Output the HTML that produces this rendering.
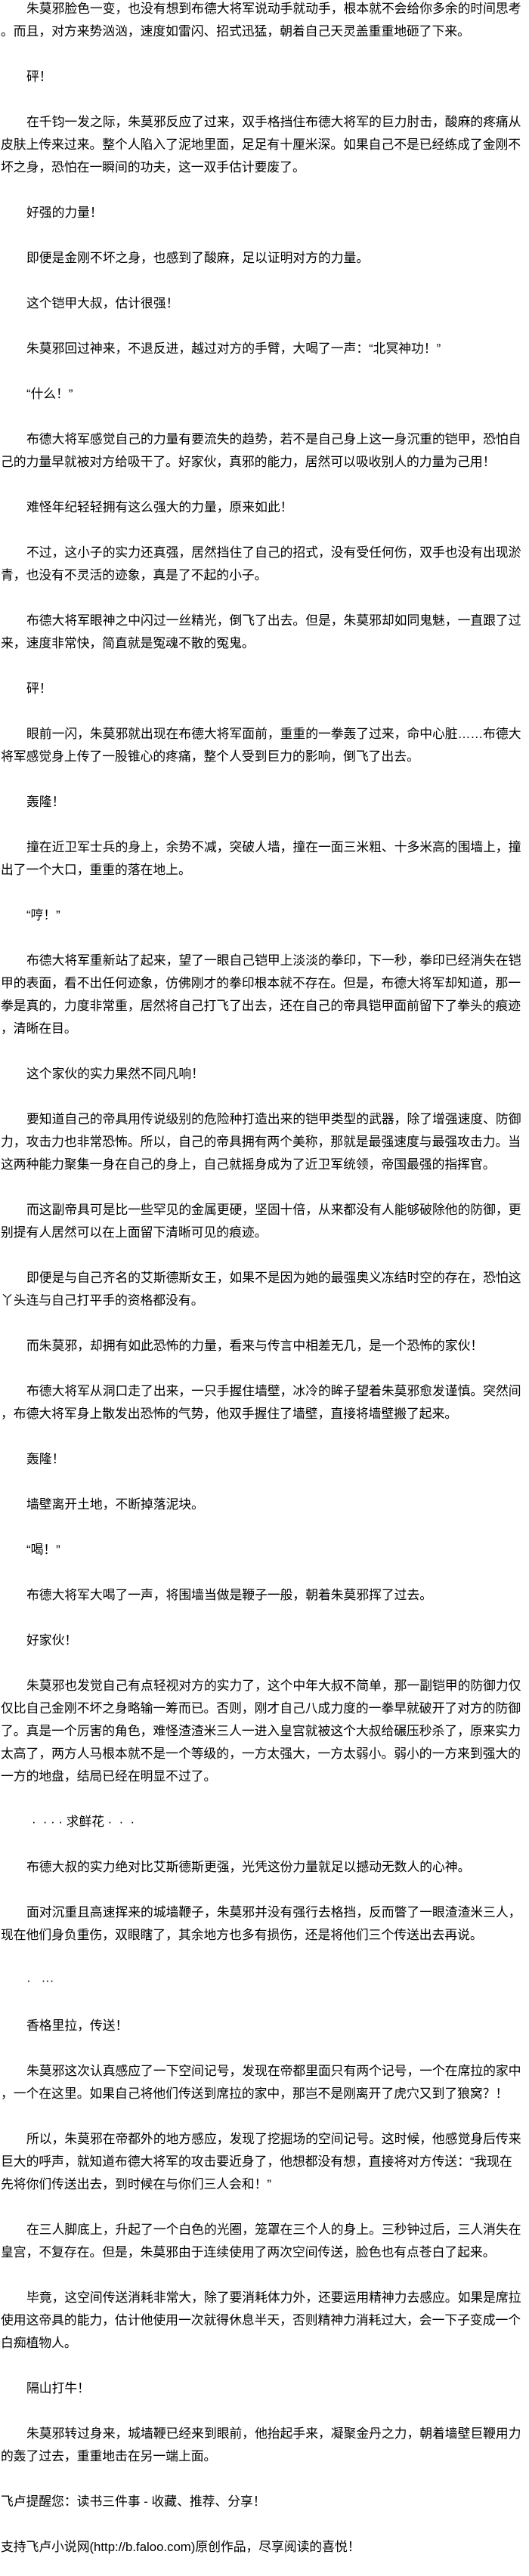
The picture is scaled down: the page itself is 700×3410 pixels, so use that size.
<!DOCTYPE html>
<html><head><meta charset="utf-8">
<style>
html,body{margin:0;padding:0;background:#fff;}
body{width:700px;height:3410px;overflow:hidden;font-family:"Liberation Sans","Noto Sans CJK SC","WenQuanYi Zen Hei",sans-serif;font-size:16.8px;color:#000;}
.l{height:30px;line-height:24px;white-space:nowrap;padding-left:1px;overflow:visible;}
.i{padding-left:35px;}
</style></head><body>
<div class="l i">朱莫邪脸色一变，也没有想到布德大将军说动手就动手，根本就不会给你多余的时间思考</div>
<div class="l">。而且，对方来势汹汹，速度如雷闪、招式迅猛，朝着自己天灵盖重重地砸了下来。</div>
<div class="l"></div>
<div class="l i">砰！</div>
<div class="l"></div>
<div class="l i">在千钧一发之际，朱莫邪反应了过来，双手格挡住布德大将军的巨力肘击，酸麻的疼痛从</div>
<div class="l">皮肤上传来过来。整个人陷入了泥地里面，足足有十厘米深。如果自己不是已经练成了金刚不</div>
<div class="l">坏之身，恐怕在一瞬间的功夫，这一双手估计要废了。</div>
<div class="l"></div>
<div class="l i">好强的力量！</div>
<div class="l"></div>
<div class="l i">即便是金刚不坏之身，也感到了酸麻，足以证明对方的力量。</div>
<div class="l"></div>
<div class="l i">这个铠甲大叔，估计很强！</div>
<div class="l"></div>
<div class="l i">朱莫邪回过神来，不退反进，越过对方的手臂，大喝了一声：“北冥神功！”</div>
<div class="l"></div>
<div class="l i">“什么！”</div>
<div class="l"></div>
<div class="l i">布德大将军感觉自己的力量有要流失的趋势，若不是自己身上这一身沉重的铠甲，恐怕自</div>
<div class="l">己的力量早就被对方给吸干了。好家伙，真邪的能力，居然可以吸收别人的力量为己用！</div>
<div class="l"></div>
<div class="l i">难怪年纪轻轻拥有这么强大的力量，原来如此！</div>
<div class="l"></div>
<div class="l i">不过，这小子的实力还真强，居然挡住了自己的招式，没有受任何伤，双手也没有出现淤</div>
<div class="l">青，也没有不灵活的迹象，真是了不起的小子。</div>
<div class="l"></div>
<div class="l i">布德大将军眼神之中闪过一丝精光，倒飞了出去。但是，朱莫邪却如同鬼魅，一直跟了过</div>
<div class="l">来，速度非常快，简直就是冤魂不散的冤鬼。</div>
<div class="l"></div>
<div class="l i">砰！</div>
<div class="l"></div>
<div class="l i">眼前一闪，朱莫邪就出现在布德大将军面前，重重的一拳轰了过来，命中心脏……布德大</div>
<div class="l">将军感觉身上传了一股锥心的疼痛，整个人受到巨力的影响，倒飞了出去。</div>
<div class="l"></div>
<div class="l i">轰隆！</div>
<div class="l"></div>
<div class="l i">撞在近卫军士兵的身上，余势不减，突破人墙，撞在一面三米粗、十多米高的围墙上，撞</div>
<div class="l">出了一个大口，重重的落在地上。</div>
<div class="l"></div>
<div class="l i">“哼！”</div>
<div class="l"></div>
<div class="l i">布德大将军重新站了起来，望了一眼自己铠甲上淡淡的拳印，下一秒，拳印已经消失在铠</div>
<div class="l">甲的表面，看不出任何迹象，仿佛刚才的拳印根本就不存在。但是，布德大将军却知道，那一</div>
<div class="l">拳是真的，力度非常重，居然将自己打飞了出去，还在自己的帝具铠甲面前留下了拳头的痕迹</div>
<div class="l">，清晰在目。</div>
<div class="l"></div>
<div class="l i">这个家伙的实力果然不同凡响！</div>
<div class="l"></div>
<div class="l i">要知道自己的帝具用传说级别的危险种打造出来的铠甲类型的武器，除了增强速度、防御</div>
<div class="l">力，攻击力也非常恐怖。所以，自己的帝具拥有两个美称，那就是最强速度与最强攻击力。当</div>
<div class="l">这两种能力聚集一身在自己的身上，自己就摇身成为了近卫军统领，帝国最强的指挥官。</div>
<div class="l"></div>
<div class="l i">而这副帝具可是比一些罕见的金属更硬，坚固十倍，从来都没有人能够破除他的防御，更</div>
<div class="l">别提有人居然可以在上面留下清晰可见的痕迹。</div>
<div class="l"></div>
<div class="l i">即便是与自己齐名的艾斯德斯女王，如果不是因为她的最强奥义冻结时空的存在，恐怕这</div>
<div class="l">丫头连与自己打平手的资格都没有。</div>
<div class="l"></div>
<div class="l i">而朱莫邪，却拥有如此恐怖的力量，看来与传言中相差无几，是一个恐怖的家伙！</div>
<div class="l"></div>
<div class="l i">布德大将军从洞口走了出来，一只手握住墙壁，冰冷的眸子望着朱莫邪愈发谨慎。突然间</div>
<div class="l">，布德大将军身上散发出恐怖的气势，他双手握住了墙壁，直接将墙壁搬了起来。</div>
<div class="l"></div>
<div class="l i">轰隆！</div>
<div class="l"></div>
<div class="l i">墙壁离开土地，不断掉落泥块。</div>
<div class="l"></div>
<div class="l i">“喝！”</div>
<div class="l"></div>
<div class="l i">布德大将军大喝了一声，将围墙当做是鞭子一般，朝着朱莫邪挥了过去。</div>
<div class="l"></div>
<div class="l i">好家伙！</div>
<div class="l"></div>
<div class="l i">朱莫邪也发觉自己有点轻视对方的实力了，这个中年大叔不简单，那一副铠甲的防御力仅</div>
<div class="l">仅比自己金刚不坏之身略输一筹而已。否则，刚才自己八成力度的一拳早就破开了对方的防御</div>
<div class="l">了。真是一个厉害的角色，难怪渣渣米三人一进入皇宫就被这个大叔给碾压秒杀了，原来实力</div>
<div class="l">太高了，两方人马根本就不是一个等级的，一方太强大，一方太弱小。弱小的一方来到强大的</div>
<div class="l">一方的地盘，结局已经在明显不过了。</div>
<div class="l"></div>
<div class="l" style="padding-left:42px">·&nbsp;&nbsp;·&nbsp;·&nbsp;·&nbsp;求鲜花&nbsp;·&nbsp;&nbsp;·&nbsp;&nbsp;·</div>
<div class="l"></div>
<div class="l i">布德大叔的实力绝对比艾斯德斯更强，光凭这份力量就足以撼动无数人的心神。</div>
<div class="l"></div>
<div class="l i">面对沉重且高速挥来的城墙鞭子，朱莫邪并没有强行去格挡，反而瞥了一眼渣渣米三人，</div>
<div class="l">现在他们身负重伤，双眼瞎了，其余地方也多有损伤，还是将他们三个传送出去再说。</div>
<div class="l"></div>
<div class="l i">·&nbsp;&nbsp;&nbsp;···</div>
<div class="l"></div>
<div class="l i">香格里拉，传送！</div>
<div class="l"></div>
<div class="l i">朱莫邪这次认真感应了一下空间记号，发现在帝都里面只有两个记号，一个在席拉的家中</div>
<div class="l">，一个在这里。如果自己将他们传送到席拉的家中，那岂不是刚离开了虎穴又到了狼窝？！</div>
<div class="l"></div>
<div class="l i">所以，朱莫邪在帝都外的地方感应，发现了挖掘场的空间记号。这时候，他感觉身后传来</div>
<div class="l">巨大的呼声，就知道布德大将军的攻击要近身了，他想都没有想，直接将对方传送：“我现在</div>
<div class="l">先将你们传送出去，到时候在与你们三人会和！”</div>
<div class="l"></div>
<div class="l i">在三人脚底上，升起了一个白色的光圈，笼罩在三个人的身上。三秒钟过后，三人消失在</div>
<div class="l">皇宫，不复存在。但是，朱莫邪由于连续使用了两次空间传送，脸色也有点苍白了起来。</div>
<div class="l"></div>
<div class="l i">毕竟，这空间传送消耗非常大，除了要消耗体力外，还要运用精神力去感应。如果是席拉</div>
<div class="l">使用这帝具的能力，估计他使用一次就得休息半天，否则精神力消耗过大，会一下子变成一个</div>
<div class="l">白痴植物人。</div>
<div class="l"></div>
<div class="l i">隔山打牛！</div>
<div class="l"></div>
<div class="l i">朱莫邪转过身来，城墙鞭已经来到眼前，他抬起手来，凝聚金丹之力，朝着墙壁巨鞭用力</div>
<div class="l">的轰了过去，重重地击在另一端上面。</div>
<div class="l"></div>
<div class="l">飞卢提醒您：读书三件事 - 收藏、推荐、分享！</div>
<div class="l"></div>
<div class="l">支持飞卢小说网(http://b.faloo.com)原创作品，尽享阅读的喜悦！</div>
</body></html>
